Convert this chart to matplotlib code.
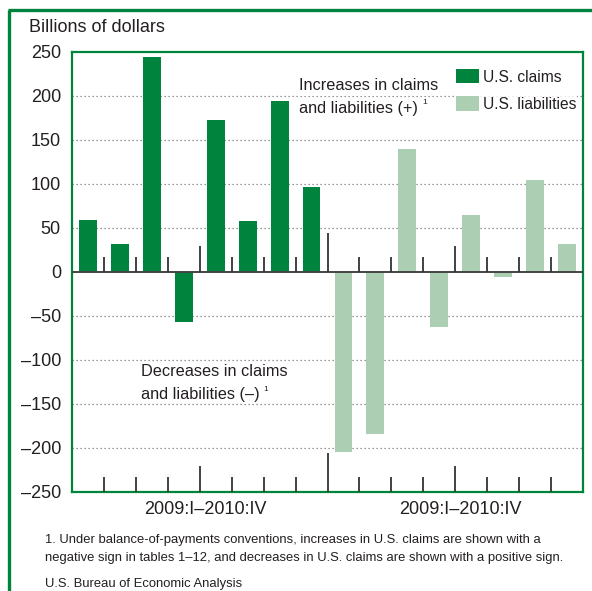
import matplotlib
matplotlib.use("Agg")
import matplotlib.pyplot as plt
from matplotlib.lines import Line2D
from matplotlib.patches import Patch

# --------------------------------------------------------------------
# Data (billions of dollars, 2009:I-2010:IV)
# --------------------------------------------------------------------
quarters = ["2009:I", "2009:II", "2009:III", "2009:IV",
            "2010:I", "2010:II", "2010:III", "2010:IV"]
us_claims = [59, 32, 244, -57, 173, 58, 194, 97]
us_liabilities = [-205, -184, 140, -63, 65, -6, 104, 32]
period_label = "2009:I\u20132010:IV"
y_ticks = [250, 200, 150, 100, 50, 0, -50, -100, -150, -200, -250]

DARK = "#00843d"
LIGHT = "#accfb4"
FRAME = "#00843d"
TXT = "#231f20"
ANN = 11.7   # annotation size
LEG = 11.2   # legend size
FOOT = 9.35  # footnote size

plt.rcParams["font.family"] = ["Liberation Sans", "DejaVu Sans"]

W, H = 592, 591
fig = plt.figure(figsize=(W / 100, H / 100), dpi=100)


def fx(px):
    return px / W


def fy(py):
    return 1 - py / H


# outer frame (left and top only)
fig.add_artist(Line2D([fx(9), fx(9)], [fy(10), 0], color=FRAME, lw=2.4,
                      transform=fig.transFigure, solid_capstyle="butt"))
fig.add_artist(Line2D([fx(8), 1], [fy(10), fy(10)], color=FRAME, lw=2.4,
                      transform=fig.transFigure, solid_capstyle="butt"))

ax = fig.add_axes([fx(72), fy(492), fx(583) - fx(72), fy(52) - fy(492)])

n = len(quarters)
x_claims = list(range(n))
x_liab = [i + n for i in range(n)]

ax.bar(x_claims, us_claims, width=0.56, color=DARK, zorder=3)
ax.bar(x_liab, us_liabilities, width=0.56, color=LIGHT, zorder=3)

ax.set_xlim(-0.5, 2 * n - 0.5)
ax.set_ylim(-250, 250)

# grid
for v in y_ticks:
    if v in (0, 250, -250):
        continue
    ax.axhline(v, color="#777777", lw=0.9, ls=(0, (1, 2.2)), zorder=1)
ax.axhline(0, color="#444444", lw=1.4, zorder=4)

# separator ticks from zero line and from bottom axis
for k in range(1, 2 * n):
    if k == n:
        h = 44
    elif k % 4 == 0:
        h = 30
    else:
        h = 17
    ax.vlines(k - 0.5, 0, h, color="#333333", lw=1.3, zorder=4)
    ax.vlines(k - 0.5, -250, -250 + h, color="#333333", lw=1.3, zorder=4)

ax.set_xticks([])
ax.set_yticks(y_ticks)
ax.set_yticklabels([str(v).replace("-", "\u2013") for v in y_ticks])
ax.tick_params(axis="y", length=0, pad=8, labelsize=13, labelcolor=TXT)
for s in ax.spines.values():
    s.set_color(FRAME)
    s.set_linewidth(1.6)

fig.text(fx(29), fy(27), "Billions of dollars", fontsize=13, color=TXT,
         va="center", ha="left")

# period labels
fig.text(fx(205), fy(509), period_label, fontsize=13, color=TXT, ha="center", va="center")
fig.text(fx(460), fy(509), period_label, fontsize=13, color=TXT, ha="center", va="center")

# annotations
wb = dict(facecolor="white", edgecolor="none", pad=1.5)
fig.text(fx(299), fy(86), "Increases in claims", fontsize=ANN, color=TXT,
         va="center", ha="left", bbox=wb)
t2 = fig.text(fx(299), fy(108), "and liabilities (+)", fontsize=ANN, color=TXT,
              va="center", ha="left", bbox=wb)
ax.annotate("1", xy=(1, 0.85), xycoords=t2, xytext=(3, 0), textcoords="offset points",
            fontsize=6, color=TXT, va="center", ha="left")

fig.text(fx(141), fy(372), "Decreases in claims", fontsize=ANN, color=TXT,
         va="center", ha="left")
t4 = fig.text(fx(141), fy(395), "and liabilities (\u2013)", fontsize=ANN, color=TXT,
              va="center", ha="left")
ax.annotate("1", xy=(1, 0.85), xycoords=t4, xytext=(3, 0), textcoords="offset points",
            fontsize=6, color=TXT, va="center", ha="left")

# legend
handles = [Patch(facecolor=DARK, edgecolor="none", label="U.S. claims"),
           Patch(facecolor=LIGHT, edgecolor="none", label="U.S. liabilities")]
leg = fig.legend(handles=handles, loc="upper left",
                 bbox_to_anchor=(fx(456), fy(69)), frameon=True, fontsize=LEG,
                 handlelength=1.45, handleheight=1.05, handletextpad=0.3,
                 labelspacing=0.75, borderpad=0, borderaxespad=0, fancybox=False)
leg.get_frame().set_facecolor("white")
leg.get_frame().set_edgecolor("none")
for t in leg.get_texts():
    t.set_color(TXT)

# footnotes
fig.text(fx(45), fy(540),
         "1. Under balance-of-payments conventions, increases in U.S. claims are shown with a",
         fontsize=FOOT, color=TXT, va="center", ha="left")
fig.text(fx(45), fy(558),
         "negative sign in tables 1\u201312, and decreases in U.S. claims are shown with a positive sign.",
         fontsize=FOOT, color=TXT, va="center", ha="left")
fig.text(fx(45), fy(584), "U.S. Bureau of Economic Analysis", fontsize=FOOT, color=TXT,
         va="center", ha="left")

fig.savefig("out.png", dpi=100)
